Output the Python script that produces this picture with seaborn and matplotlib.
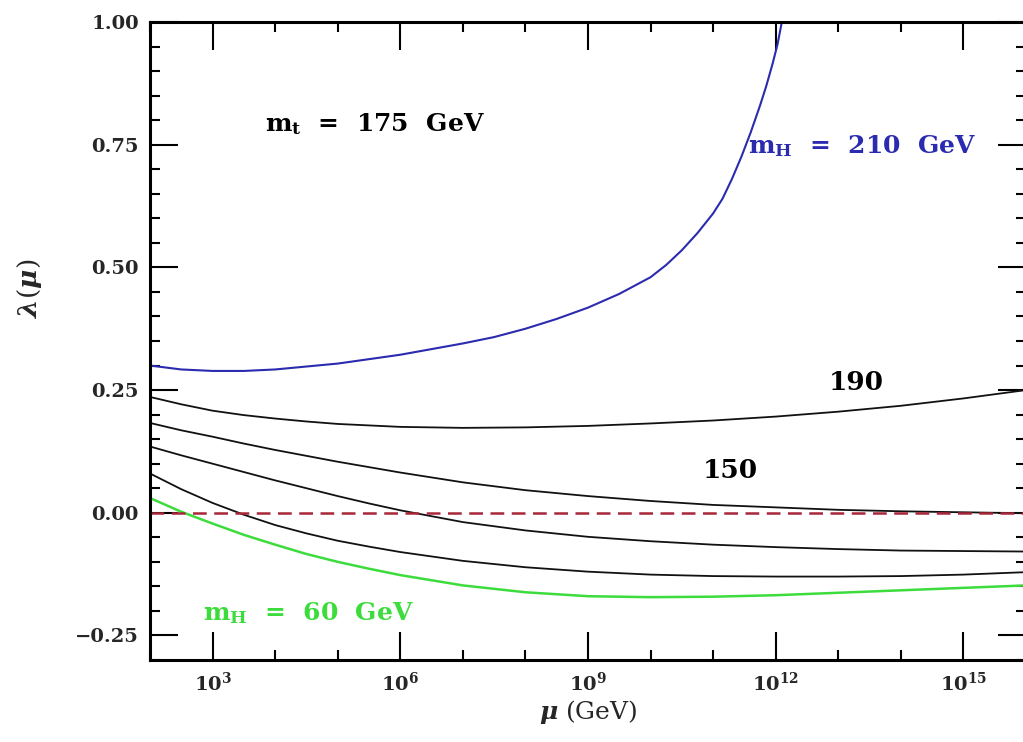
import numpy as np
import pandas as pd
import matplotlib
matplotlib.use("Agg")
import matplotlib.pyplot as plt
import seaborn as sns
from matplotlib.ticker import FixedLocator, FixedFormatter, NullFormatter

# ---------------- data ----------------
log_mu = [2, 2.5, 3, 3.5, 4, 4.5, 5, 5.5, 6, 7, 8, 9, 10, 11, 12, 13, 14, 15, 16]

lam_190 = [0.236, 0.221, 0.208, 0.199, 0.192, 0.186, 0.181, 0.178, 0.175, 0.173, 0.174,
           0.177, 0.182, 0.188, 0.196, 0.206, 0.218, 0.233, 0.250]
lam_150 = [0.183, 0.168, 0.155, 0.141, 0.128, 0.116, 0.104, 0.093, 0.082, 0.062, 0.046,
           0.034, 0.024, 0.016, 0.011, 0.006, 0.003, 0.001, -0.001]
lam_c = [0.135, 0.117, 0.100, 0.083, 0.066, 0.050, 0.034, 0.019, 0.005, -0.019, -0.036,
         -0.049, -0.058, -0.065, -0.070, -0.074, -0.077, -0.078, -0.079]
lam_d = [0.080, 0.048, 0.020, -0.004, -0.025, -0.042, -0.057, -0.069, -0.080, -0.098, -0.111,
         -0.120, -0.126, -0.129, -0.130, -0.130, -0.129, -0.126, -0.121]
lam_60 = [0.030, 0.002, -0.022, -0.045, -0.065, -0.084, -0.100, -0.114, -0.127, -0.148, -0.162,
          -0.170, -0.172, -0.171, -0.168, -0.163, -0.158, -0.153, -0.148]

blue_log_mu = [2, 2.5, 3, 3.5, 4, 5, 6, 7, 7.5, 8, 8.5, 9, 9.5, 10, 10.25, 10.5,
               10.75, 11, 11.15, 11.3, 11.45, 11.6, 11.75, 11.85, 11.95, 12.03,
               12.09, 12.13]
lam_210 = [0.300, 0.292, 0.289, 0.289, 0.292, 0.304, 0.322, 0.345, 0.358, 0.375,
           0.395, 0.418, 0.446, 0.480, 0.505, 0.535, 0.570, 0.610, 0.640, 0.680,
           0.725, 0.775, 0.830, 0.870, 0.915, 0.955, 0.995, 1.025]

zero_log_mu = [2, 16]
zero_line = [0.0, 0.0]

x_major = [1e3, 1e6, 1e9, 1e12, 1e15]
x_major_labels = ["$10^{3}$", "$10^{6}$", "$10^{9}$", "$10^{12}$", "$10^{15}$"]
y_major = [-0.25, 0.0, 0.25, 0.5, 0.75, 1.0]
y_major_labels = ["\u22120.25", "0.00", "0.25", "0.50", "0.75", "1.00"]

# ---------------- style ----------------
sns.set_style("ticks")
plt.rcParams["font.family"] = ["DejaVu Serif"]
plt.rcParams["font.weight"] = "bold"
plt.rcParams["mathtext.fontset"] = "custom"
plt.rcParams["mathtext.rm"] = "DejaVu Serif:bold"
plt.rcParams["mathtext.it"] = "DejaVu Serif:italic"
plt.rcParams["mathtext.bf"] = "DejaVu Serif:bold"

W, H = 1023, 742
fig = plt.figure(figsize=(W / 100, H / 100), dpi=100)
ax = fig.add_axes([150 / W, 1 - 660 / H, 876 / W, 638 / H])

def to_mu(lg):
    return [10.0 ** v for v in lg]

black_curves = [lam_190, lam_150, lam_c, lam_d]
for lam in black_curves:
    sns.lineplot(x=to_mu(log_mu), y=lam, ax=ax, color="#111111", lw=1.3)
sns.lineplot(x=to_mu(log_mu), y=lam_60, ax=ax, color="#3ddc3d", lw=1.8)
sns.lineplot(x=to_mu(blue_log_mu), y=lam_210, ax=ax, color="#2b2bb0", lw=1.5)
sns.lineplot(x=to_mu(zero_log_mu), y=zero_line, ax=ax, color="#a8283a", lw=1.8)
ax.lines[-1].set_linestyle((0, (5.5, 3.0)))

ax.set_xscale("log")
ax.set_xlim(1e2, 1e16)
ax.set_ylim(-0.30, 1.00)

ax.xaxis.set_major_locator(FixedLocator(x_major))
ax.xaxis.set_major_formatter(FixedFormatter(x_major_labels))
ax.xaxis.set_minor_locator(FixedLocator([10.0 ** k for k in range(2, 17)]))
ax.xaxis.set_minor_formatter(NullFormatter())
ax.yaxis.set_major_locator(FixedLocator(y_major))
ax.yaxis.set_major_formatter(FixedFormatter(y_major_labels))
ax.yaxis.set_minor_locator(FixedLocator(list(np.arange(-0.30, 1.001, 0.05))))
ax.yaxis.set_minor_formatter(NullFormatter())

ax.tick_params(which="both", direction="in", top=True, right=True,
               bottom=True, left=True, color="black")
ax.tick_params(which="major", length=20, width=1.5, labelsize=14, pad=8)
ax.tick_params(which="minor", length=7, width=1.5)
for sp in ax.spines.values():
    sp.set_linewidth(2.2)
    sp.set_color("black")

ax.set_xlabel("$\\mu$ (GeV)", fontsize=18, labelpad=3, fontweight="normal")
ax.set_ylabel("")
fig.text(30 / W, 1 - 288 / H, "$\\lambda$($\\mu$)", rotation=90, fontsize=19,
         ha="center", va="center", fontweight="normal")

ax.text(10 ** 3.83, 0.792, "m$_\\mathrm{t}$  =  175  GeV", fontsize=18,
        color="black", ha="left", va="center")
ax.text(10 ** 11.55, 0.747, "m$_\\mathrm{H}$  =  210  GeV", fontsize=18,
        color="#2b2bb0", ha="left", va="center")
ax.text(10 ** 2.84, -0.204, "m$_\\mathrm{H}$  =  60  GeV", fontsize=18,
        color="#3ddc3d", ha="left", va="center")
ax.text(10 ** 13.29, 0.265, "190", fontsize=19, color="black",
        ha="center", va="center")
ax.text(10 ** 11.27, 0.086, "150", fontsize=19, color="black",
        ha="center", va="center")

fig.savefig("out.png", dpi=100)
